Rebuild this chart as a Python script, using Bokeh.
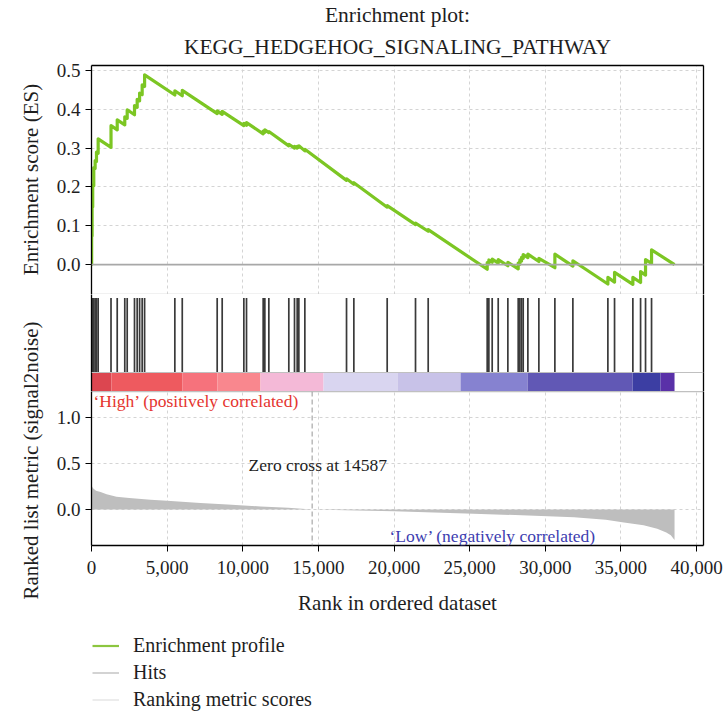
from math import pi

from bokeh.plotting import figure
from bokeh.layouts import column, row
from bokeh.models import (Range1d, LinearAxis, FixedTicker, NumeralTickFormatter,
                          PrintfTickFormatter, Span, Title, Legend, LegendItem, Label)
from bokeh.core.properties import value
from bokeh.embed import file_html
from bokeh.resources import INLINE

FONT = "Liberation Serif"

# ---- data -------------------------------------------------------------
n_genes = 38545
zero_cross = 14587

# positions of the gene-set members in the ranked list
hit_ranks = [10, 40, 80, 150, 240, 330, 440, 1290, 1700, 2200, 2360, 2843, 3020,
             3180, 3350, 3510, 5510, 6000, 8309, 8640, 10072, 10248, 11350, 11460,
             11724, 13045, 13421, 13598, 13708, 14105, 16860, 17344, 19548, 21421,
             22259, 26160, 26270, 26490, 26888, 27526, 28210, 28320, 28430, 28540,
             28849, 29576, 30634, 31824, 34138, 34579, 35790, 36300, 36628, 37025]

# running enrichment score just before and just after each hit
es_before = [0.000, 0.074, 0.149, 0.203, 0.248, 0.266, 0.287,
             0.302, 0.347, 0.360, 0.377, 0.386, 0.405, 0.422, 0.438, 0.459,
             0.437, 0.435, 0.389, 0.387, 0.358, 0.359,
             0.337, 0.341, 0.340, 0.306, 0.300, 0.300, 0.302, 0.293,
             0.217, 0.207, 0.148, 0.103, 0.086,
             -0.012, 0.002, 0.006, 0.004, -0.003,
             -0.011, 0.001, 0.009, 0.016, 0.018, 0.008, -0.008, -0.004,
             -0.050, -0.045, -0.051, -0.046, -0.027, 0.003]
es_after = [0.075, 0.150, 0.205, 0.250, 0.268, 0.290, 0.324,
            0.358, 0.373, 0.381, 0.399, 0.410, 0.426, 0.442, 0.463, 0.489,
            0.448, 0.449, 0.396, 0.395, 0.364, 0.366,
            0.344, 0.347, 0.343, 0.310, 0.305, 0.305, 0.306, 0.297,
            0.221, 0.211, 0.152, 0.107, 0.090,
            0.005, 0.012, 0.014, 0.013, 0.006,
            0.004, 0.012, 0.019, 0.026, 0.027, 0.016, 0.027, 0.010,
            -0.033, -0.020, -0.033, -0.018, 0.013, 0.038]
es_end = 0.0

# ranked list metric (signal2noise) along the list
metric_rank = [0, 100, 300, 600, 1000, 1650, 2500, 3900, 5000, 7200, 9000, 11170,
               13000, 14587, 17600, 20000, 25260, 28000, 31900, 34000, 35200,
               36500, 37400, 38000, 38300, 38545, 38545]
metric_score = [0.26, 0.23, 0.205, 0.19, 0.165, 0.14, 0.125, 0.105, 0.095, 0.07,
                0.055, 0.033, 0.02, 0.0, -0.01, -0.02, -0.045, -0.06, -0.083,
                -0.11, -0.14, -0.17, -0.21, -0.25, -0.28, -0.33, 0.0]

# colour band under the hits (metric sign / magnitude)
band_edges = [0, 1320, 6000, 8330, 11170, 15340, 20230, 24400, 28830, 35770,
              37620, 38545]
band_colors = ["#DC4650", "#EE5A5F", "#F6727C", "#F9878E", "#F4B9D7", "#D9D5F0",
               "#C8C2E8", "#8682D0", "#6158B5", "#3C3EA3", "#5A31A8"]

x_ticks = [0, 5000, 10000, 15000, 20000, 25000, 30000, 35000, 40000]
es_ticks = [0.0, 0.1, 0.2, 0.3, 0.4, 0.5]
metric_ticks = [0.0, 0.5, 1.0]

ES_GREEN = "#7CC623"
GRID = "#d4d4d4"
TEXT = "#1e1e1e"

# ---- helpers ----------------------------------------------------------
def edge_axis(color):
    return LinearAxis(ticker=FixedTicker(ticks=[]), major_label_text_font_size="0px",
                      major_tick_out=0, major_tick_in=0, minor_tick_out=0, minor_tick_in=0,
                      major_label_standoff=0, axis_line_color=color, axis_line_width=1.3,
                      major_tick_line_color=None, minor_tick_line_color=None)


def style_tick_axis(ax):
    ax.axis_line_color = "black"
    ax.axis_line_width = 1.3
    ax.major_tick_line_color = "black"
    ax.major_tick_out = 6
    ax.major_tick_in = 0
    ax.minor_tick_line_color = None
    ax.major_label_text_font = FONT
    ax.major_label_text_font_size = "19px"
    ax.major_label_text_color = TEXT
    ax.major_label_standoff = 5


def panel(frame_height, y_range, top=0, bottom=0):
    p = figure(frame_width=612, frame_height=frame_height, x_range=x_range,
               y_range=y_range, min_border_left=46, min_border_right=22,
               min_border_top=top, min_border_bottom=bottom,
               x_axis_location=None, y_axis_location=None, title_location=None,
               toolbar_location=None, output_backend="svg", outline_line_color=None)
    p.background_fill_color = "white"
    return p


def style_grid(p, yticks):
    p.xgrid.ticker = FixedTicker(ticks=x_ticks)
    p.xgrid.grid_line_color = GRID
    p.xgrid.grid_line_dash = "3 3"
    if yticks is None:
        p.ygrid.visible = False
    else:
        p.ygrid.ticker = FixedTicker(ticks=yticks)
        p.ygrid.grid_line_color = GRID
        p.ygrid.grid_line_dash = "3 3"


x_range = Range1d(0, 40460)

# ---- enrichment score panel -------------------------------------------
p_es = panel(229, Range1d(-0.077, 0.513), top=65)
style_grid(p_es, es_ticks[1:])
ax = LinearAxis(ticker=FixedTicker(ticks=es_ticks),
                formatter=PrintfTickFormatter(format="%.1f"))
style_tick_axis(ax)
p_es.add_layout(ax, "left")
p_es.add_layout(edge_axis("black"), "right")
p_es.add_layout(edge_axis("black"), "above")
p_es.add_layout(edge_axis("#c8c8c8"), "below")
p_es.add_layout(Title(text="KEGG_HEDGEHOG_SIGNALING_PATHWAY", align="center",
                      text_font=FONT, text_font_size="21.5px", text_font_style="normal",
                      text_color=TEXT, standoff=13), "above")
p_es.add_layout(Title(text="Enrichment plot:", align="center",
                      text_font=FONT, text_font_size="21.5px", text_font_style="normal",
                      text_color=TEXT, standoff=0), "above")
p_es.add_layout(Span(location=0, dimension="width", line_color="#a8a8a8", line_width=1.6))

es_x = [0]
es_y = [0.0]
for r, b, a in zip(hit_ranks, es_before, es_after):
    es_x += [r, r]
    es_y += [b, a]
es_x.append(n_genes)
es_y.append(es_end)
p_es.line(es_x, es_y, line_color=ES_GREEN, line_width=3.2, line_join="round")

# ---- hits + colour band panel -----------------------------------------
p_hits = panel(97, Range1d(0, 1))
style_grid(p_hits, None)
p_hits.xgrid.visible = False
p_hits.add_layout(edge_axis("black"), "left")
p_hits.add_layout(edge_axis("black"), "right")
p_hits.quad(left=band_edges[:-1], right=band_edges[1:], bottom=0, top=0.196,
            fill_color=band_colors, line_color=None)
p_hits.segment(x0=hit_ranks, y0=0.196, x1=hit_ranks, y1=0.965,
               line_color="#3a3a3a", line_width=1.7)
p_hits.add_layout(Span(location=0.196, dimension="width", line_color="#c0c0c0",
                       line_width=1.2))

# ---- ranked list metric panel -----------------------------------------
p_rm = panel(154, Range1d(-0.391, 1.283))
style_grid(p_rm, metric_ticks)
ay = LinearAxis(ticker=FixedTicker(ticks=metric_ticks),
                formatter=PrintfTickFormatter(format="%.1f"))
style_tick_axis(ay)
p_rm.add_layout(ay, "left")
axx = LinearAxis(ticker=FixedTicker(ticks=x_ticks),
                 formatter=NumeralTickFormatter(format="0,0"),
                 axis_label="Rank in ordered dataset")
style_tick_axis(axx)
axx.major_label_standoff = 9
axx.axis_label_text_font = FONT
axx.axis_label_text_font_size = "21px"
axx.axis_label_text_font_style = "normal"
axx.axis_label_text_color = TEXT
axx.axis_label_standoff = 14
p_rm.add_layout(axx, "below")
p_rm.add_layout(edge_axis("black"), "right")
p_rm.add_layout(edge_axis("#c0c0c0"), "above")

p_rm.varea(x=metric_rank, y1=0, y2=metric_score, fill_color="#bebebe")
p_rm.add_layout(Span(location=zero_cross, dimension="height", line_color="#a0a0a0",
                     line_dash="5 3", line_width=1.1))
p_rm.add_layout(Label(x=zero_cross - 4200, y=0.48, text=f"Zero cross at {zero_cross}",
                      text_font=FONT, text_font_size="17.5px", text_color=TEXT,
                      text_align="left", text_baseline="middle"))
p_rm.add_layout(Label(x=130, y=1.175, text="\u2018High\u2019 (positively correlated)",
                      text_font=FONT, text_font_size="17.5px", text_color="#E5352F",
                      text_align="left", text_baseline="middle"))
p_rm.add_layout(Label(x=19700, y=-0.283, text="\u2018Low\u2019 (negatively correlated)",
                      text_font=FONT, text_font_size="17.5px", text_color="#3D3DB0",
                      text_align="left", text_baseline="middle"))

# ---- vertical axis titles ---------------------------------------------
lab_h = 620
lab = figure(width=45, height=lab_h, x_range=Range1d(0, 45), y_range=Range1d(0, lab_h),
             min_border=0, x_axis_location=None, y_axis_location=None,
             title_location=None, toolbar_location=None, output_backend="svg",
             outline_line_color=None)
lab.grid.visible = False
lab.text(x=[30, 30], y=[lab_h - 179, lab_h - 460],
         text=["Enrichment score (ES)", "Ranked list metric (signal2noise)"],
         angle=pi / 2, text_align="center", text_baseline="middle",
         text_font=value(FONT), text_font_size="21px", text_color=TEXT)

# ---- legend -----------------------------------------------------------
leg = figure(width=725, height=100, x_range=Range1d(0, 1), y_range=Range1d(0, 1),
             min_border=0, x_axis_location=None, y_axis_location=None,
             title_location=None, toolbar_location=None, output_backend="svg",
             outline_line_color=None)
leg.grid.visible = False
# off-canvas proxies: only their legend swatches are seen
r_es = leg.line(x=[-2, -1], y=[-2, -2], line_color="#8CC63F", line_width=2.2)
r_hit = leg.line(x=[-2, -1], y=[-2, -2], line_color="#c4c4c4", line_width=1.5)
r_rm = leg.line(x=[-2, -1], y=[-2, -2], line_color="#e6e6e6", line_width=1.5)
legend = Legend(items=[LegendItem(label="Enrichment profile", renderers=[r_es]),
                       LegendItem(label="Hits", renderers=[r_hit]),
                       LegendItem(label="Ranking metric scores", renderers=[r_rm])],
                location=(92, 7), orientation="vertical", padding=0, margin=0,
                spacing=0, glyph_width=27, glyph_height=27, label_height=27,
                label_standoff=14, border_line_color=None, background_fill_alpha=0,
                label_text_font=FONT, label_text_font_size="20px",
                label_text_color=TEXT)
leg.add_layout(legend)

layout = column(row(lab, column(p_es, p_hits, p_rm)), leg)

open("out.html", "w").write(file_html(layout, INLINE))
